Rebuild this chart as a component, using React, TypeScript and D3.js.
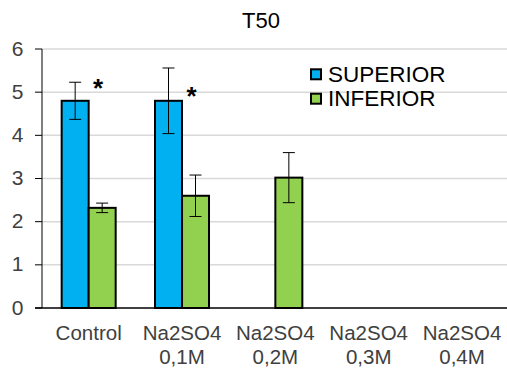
import React from "react";
import * as d3 from "d3";

const categories = ["Control", "Na2SO4 0,1M", "Na2SO4 0,2M", "Na2SO4 0,3M", "Na2SO4 0,4M"];
const series = ["SUPERIOR", "INFERIOR"];
const superiorValues: (number | null)[] = [4.8, 4.8, null, null, null];
const superiorErrors: (number | null)[] = [0.43, 0.76, null, null, null];
const inferiorValues: (number | null)[] = [2.32, 2.6, 3.02, null, null];
const inferiorErrors: (number | null)[] = [0.11, 0.48, 0.58, null, null];
const asteriskValues: (number | null)[] = [5.23, 5.05, null, null, null];
const yTicks = [0, 1, 2, 3, 4, 5, 6];
const title = "T50";

const colors: Record<string, string> = { SUPERIOR: "#00B0F0", INFERIOR: "#92D050" };

export default function App() {
  const W = 507, H = 369;
  const left = 42, right = 508.7, top = 49, bottom = 308;
  const y = d3.scaleLinear().domain([0, 6]).range([bottom, top]);
  const x0 = d3.scaleBand<string>().domain(categories).range([left, right]).padding(0);
  const groupW = 54;
  const x1 = d3.scaleBand<string>().domain(series).range([0, groupW]).padding(0);
  const off = (x0.bandwidth() - groupW) / 2;

  const data = series.map((s) => ({
    s,
    vals: s === "SUPERIOR" ? superiorValues : inferiorValues,
    errs: s === "SUPERIOR" ? superiorErrors : inferiorErrors,
  }));

  const font = "'Liberation Sans', Arial, sans-serif";

  return (
    <svg width={W} height={H} style={{ position: "absolute", left: 0, top: 0, background: "#fff" }} fontFamily={font}>
      <rect x={0} y={0} width={W} height={H} fill="#fff" />
      <text x={261} y={27.5} fontSize={22} textAnchor="middle" fill="#000">{title}</text>
      {yTicks.map((t) => (
        <g key={t}>
          {t > 0 && <line x1={left} x2={W} y1={y(t)} y2={y(t)} stroke="#d9d9d9" strokeWidth={1.5} />}
          <line x1={left - 7} x2={left} y1={y(t)} y2={y(t)} stroke="#000" strokeWidth={1} />
          <text x={23.5} y={y(t) + 6.5} fontSize={21} textAnchor="end" fill="#404040">{t}</text>
        </g>
      ))}
      {data.map((d) =>
        categories.map((c, i) => {
          const v = d.vals[i];
          if (v == null) return null;
          const bx = (x0(c) as number) + off + (x1(d.s) as number);
          const bw = x1.bandwidth();
          const e = d.errs[i] ?? 0;
          const cx = bx + bw / 2;
          return (
            <g key={d.s + c}>
              <rect x={bx} y={y(v)} width={bw} height={y(0) - y(v)} fill={colors[d.s]} stroke="#000" strokeWidth={2} />
              <line x1={cx} x2={cx} y1={y(v + e)} y2={y(v - e)} stroke="#000" strokeWidth={1} />
              <line x1={cx - 6} x2={cx + 6} y1={y(v + e)} y2={y(v + e)} stroke="#000" strokeWidth={1} />
              <line x1={cx - 6} x2={cx + 6} y1={y(v - e)} y2={y(v - e)} stroke="#000" strokeWidth={1} />
            </g>
          );
        })
      )}
      {categories.map((c, i) => {
        const a = asteriskValues[i];
        if (a == null) return null;
        const cx = (x0(c) as number) + off + (x1("INFERIOR") as number) + 9.5;
        return (
          <text key={"a" + c} x={cx} y={y(a) + 15} fontSize={26} fontWeight="bold" textAnchor="middle" fill="#000">*</text>
        );
      })}
      <line x1={left} x2={left} y1={top} y2={bottom} stroke="#000" strokeWidth={1} />
      <line x1={left - 7} x2={W} y1={bottom} y2={bottom} stroke="#000" strokeWidth={1.5} />
      {categories.map((c) => {
        const cx = (x0(c) as number) + x0.bandwidth() / 2;
        const parts = c.split(" ");
        return (
          <text key={"l" + c} x={cx} y={340} fontSize={20.5} textAnchor="middle" fill="#404040">
            {parts.map((p, j) => (
              <tspan key={j} x={cx} y={340 + j * 24}>{p}</tspan>
            ))}
          </text>
        );
      })}
      {series.map((s, i) => (
        <g key={"lg" + s}>
          <rect x={311} y={69.3 + i * 24.4} width={10} height={10} fill={colors[s]} stroke="#000" strokeWidth={2} />
          <text x={328} y={81.7 + i * 24.4} fontSize={22.5} fill="#000">{s}</text>
        </g>
      ))}
    </svg>
  );
}
